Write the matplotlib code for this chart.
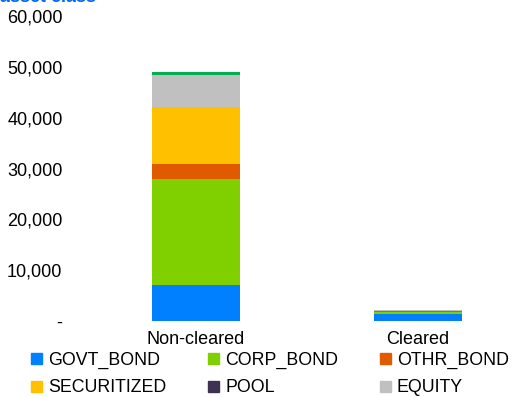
import numpy as np
import matplotlib.pyplot as plt
from matplotlib.patches import Patch

plt.rcParams['font.family'] = ['Liberation Sans', 'DejaVu Sans']

categories = ['Non-cleared', 'Cleared']
govt_bond = [7000, 1400]
corp_bond = [21000, 400]
othr_bond = [2900, 150]
securitized = [11200, 0]
pool = [0, 100]
equity = [6300, 50]
other = [500, 50]

series = [
    ('GOVT_BOND', govt_bond, '#0080FF'),
    ('CORP_BOND', corp_bond, '#80D000'),
    ('OTHR_BOND', othr_bond, '#E05A00'),
    ('SECURITIZED', securitized, '#FFC000'),
    ('POOL', pool, '#3F3151'),
    ('EQUITY', equity, '#C0C0C0'),
    ('_other', other, '#00B050'),
]

fig = plt.figure(figsize=(5.12, 3.97), dpi=100)
ax = fig.add_axes([75 / 512, 1 - 321 / 397, 437 / 512, (321 - 16) / 397])

x = np.arange(len(categories))
bottom = np.zeros(len(categories))
for name, vals, col in series:
    ax.bar(x, vals, width=0.4, bottom=bottom, color=col, edgecolor='none')
    bottom += np.array(vals)

ax.set_xlim(-0.545, 1.423)
ax.set_ylim(0, 60000)
ax.set_yticks(np.arange(0, 60001, 10000))
ax.set_yticklabels(['-'] + ['{:,}'.format(v) for v in range(10000, 60001, 10000)])
ax.set_xticks(x)
ax.set_xticklabels(categories)
ax.tick_params(length=0, labelsize=13, pad=9)
ax.tick_params(axis='x', pad=7)
for s in ax.spines.values():
    s.set_visible(False)

fig.text(0.0, 1 - 6 / 397, 'asset class', color='#0066FF', fontsize=13,
         fontweight='bold', va='bottom', ha='left')

handles = [Patch(color=c, label=n) for n, v, c in series[:6]]
handles = [handles[0], handles[3], handles[1], handles[4], handles[2], handles[5]]
fig.legend(handles=handles, loc='lower left', bbox_to_anchor=(19 / 512, -0.03),
           ncol=3, frameon=False, fontsize=12.8, handlelength=0.6, handleheight=0.6,
           handletextpad=0.35, columnspacing=2.35, labelspacing=0.6, borderpad=0.2)

fig.savefig('out.png', dpi=100)
